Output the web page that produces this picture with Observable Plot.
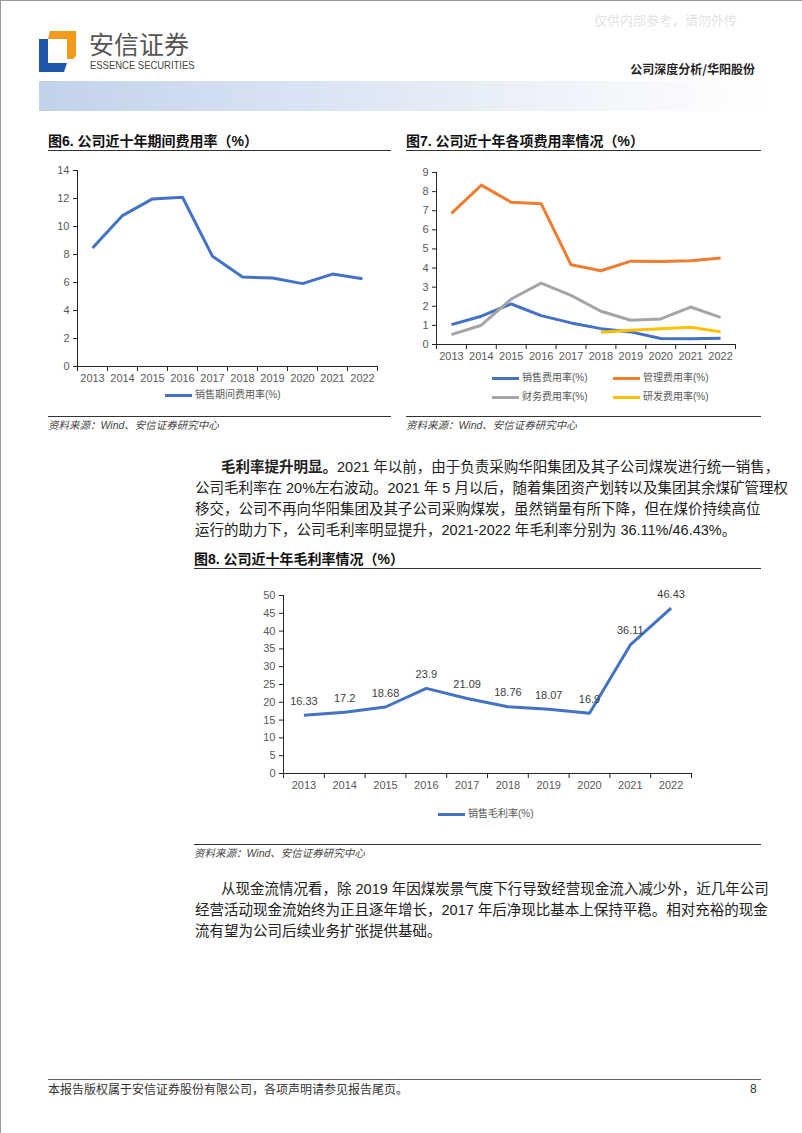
<!DOCTYPE html>
<html><head><meta charset="utf-8">
<script src="https://cdn.jsdelivr.net/npm/d3@7"></script>
<script src="https://cdn.jsdelivr.net/npm/@observablehq/plot@0.6"></script>
<style>
body{margin:0;background:#fff;}
#page{position:relative;width:802px;height:1133px;overflow:hidden;background:#fff;font-family:"Liberation Sans","Noto Sans CJK SC",sans-serif;color:#222;box-sizing:border-box;border-top:1px solid #999;border-left:1px solid #999;}
.a{position:absolute;white-space:nowrap;}
.title{font-size:14px;font-weight:bold;color:#111;line-height:18px;}
.rule{position:absolute;height:0;border-top:1.3px solid #333;}
.src{font-size:10.5px;font-style:italic;color:#444;line-height:14px;}
.para{position:absolute;font-size:14.5px;line-height:20px;color:#222;text-align:justify;text-align-last:justify;white-space:nowrap;}
.para.last{text-align-last:left;}
.leg{position:absolute;font-size:10px;color:#595959;line-height:12px;white-space:nowrap;display:flex;align-items:center;}
.leg i{display:inline-block;width:27px;height:3px;margin-right:3px;}
.chart{position:absolute;}
</style></head><body><div id="page">
<div class="a" style="left:593px;top:9px;font-size:13px;color:#e4e4e4;font-family:'Noto Sans CJK SC';">仅供内部参考，请勿外传</div>
<svg class="a" style="left:0;top:0" width="90" height="80">
  <polygon points="49,30 75,30 75,55 72,58 66,58 66,38 47,38" fill="#f39a1e"/>
  <polygon points="38,38 47,38 47,62 66,62 63,71 38,71" fill="#1e56a8"/>
</svg>
<div class="a" style="left:88px;top:26px;font-size:25px;line-height:32px;color:#555;font-family:'Noto Sans CJK SC';">安信证券</div>
<div class="a" style="left:89px;top:58px;font-size:11px;line-height:13px;color:#444;font-family:'Liberation Sans Narrow','Liberation Sans';transform:scaleX(0.86);transform-origin:left;">ESSENCE SECURITIES</div>
<div class="a" style="right:47px;top:60px;font-size:12px;font-weight:bold;color:#222;line-height:16px;font-family:'Noto Sans CJK SC';">公司深度分析/华阳股份</div>
<div class="a" style="left:38px;top:80px;width:722px;height:30px;background:linear-gradient(to right,#c2d2eb 0%,#dbe5f4 40%,#eef2f9 70%,#ffffff 100%);"></div>

<div class="a title" style="left:47px;top:131px;">图6. 公司近十年期间费用率（%）</div>
<div class="rule" style="left:47px;top:149px;width:343px;"></div>
<div class="a title" style="left:405px;top:131px;">图7. 公司近十年各项费用率情况（%）</div>
<div class="rule" style="left:405px;top:149px;width:355px;"></div>
<div id="c6" class="chart" style="left:40px;top:160px;"></div>
<div id="c7" class="chart" style="left:400px;top:160px;"></div>
<div class="leg" style="left:164px;top:388px;"><i style="background:#4472c4"></i>销售期间费用率(%)</div>
<div class="leg" style="left:491px;top:371px;"><i style="background:#4472c4"></i>销售费用率(%)</div>
<div class="leg" style="left:612px;top:371px;"><i style="background:#ed7d31"></i>管理费用率(%)</div>
<div class="leg" style="left:491px;top:390px;"><i style="background:#a5a5a5"></i>财务费用率(%)</div>
<div class="leg" style="left:612px;top:390px;"><i style="background:#ffc000"></i>研发费用率(%)</div>
<div class="rule" style="left:47px;top:415px;width:343px;"></div>
<div class="rule" style="left:405px;top:415px;width:355px;"></div>
<div class="a src" style="left:47px;top:417px;">资料来源：Wind、安信证券研究中心</div>
<div class="a src" style="left:405px;top:417px;">资料来源：Wind、安信证券研究中心</div>

<div class="para" style="left:220px;top:456px;width:537px;"><b>毛利率提升明显。</b>2021 年以前，由于负责采购华阳集团及其子公司煤炭进行统一销售，</div>
<div class="para" style="left:194px;top:477px;width:563px;">公司毛利率在 20%左右波动。2021 年 5 月以后，随着集团资产划转以及集团其余煤矿管理权</div>
<div class="para" style="left:194px;top:498px;width:563px;">移交，公司不再向华阳集团及其子公司采购煤炭，虽然销量有所下降，但在煤价持续高位</div>
<div class="para last" style="left:194px;top:519px;">运行的助力下，公司毛利率明显提升，2021-2022 年毛利率分别为 36.11%/46.43%。</div>

<div class="a title" style="left:193px;top:549px;">图8. 公司近十年毛利率情况（%）</div>
<div class="rule" style="left:193px;top:567px;width:567px;"></div>
<div id="c8" class="chart" style="left:240px;top:580px;"></div>
<div class="leg" style="left:437px;top:807px;"><i style="background:#4472c4"></i>销售毛利率(%)</div>
<div class="rule" style="left:193px;top:843px;width:567px;"></div>
<div class="a src" style="left:193px;top:845px;">资料来源：Wind、安信证券研究中心</div>

<div class="para" style="left:220px;top:878px;width:537px;">从现金流情况看，除 2019 年因煤炭景气度下行导致经营现金流入减少外，近几年公司</div>
<div class="para" style="left:194px;top:899px;width:563px;">经营活动现金流始终为正且逐年增长，2017 年后净现比基本上保持平稳。相对充裕的现金</div>
<div class="para last" style="left:194px;top:920px;">流有望为公司后续业务扩张提供基础。</div>

<div class="rule" style="left:47px;top:1078px;width:713px;border-top:1px solid #666;"></div>
<div class="a" style="left:47px;top:1080px;font-size:12px;line-height:16px;color:#333;font-family:'Noto Sans CJK SC';">本报告版权属于安信证券股份有限公司，各项声明请参见报告尾页。</div>
<div class="a" style="left:749px;top:1080px;font-size:12px;line-height:16px;color:#333;">8</div>
</div>
<script>
// ---- data ----
const years = [2013, 2014, 2015, 2016, 2017, 2018, 2019, 2020, 2021, 2022];
const periodExpenseRate = [8.47, 10.78, 11.97, 12.09, 7.87, 6.39, 6.32, 5.92, 6.6, 6.27];
const salesExpenseRate = [1.04, 1.48, 2.12, 1.51, 1.13, 0.83, 0.66, 0.31, 0.30, 0.33];
const mgmtExpenseRate = [6.86, 8.34, 7.44, 7.37, 4.17, 3.86, 4.36, 4.34, 4.38, 4.52];
const finExpenseRate = [0.52, 1.01, 2.38, 3.21, 2.57, 1.74, 1.27, 1.34, 1.96, 1.42];
const rdExpenseRate = [null, null, null, null, null, 0.64, 0.75, 0.83, 0.90, 0.66];
const grossMargin = [16.33, 17.2, 18.68, 23.9, 21.09, 18.76, 18.07, 16.9, 36.11, 46.43];
const grossMarginLabels = ["16.33", "17.2", "18.68", "23.9", "21.09", "18.76", "18.07", "16.9", "36.11", "46.43"];
const ticks6 = [0, 2, 4, 6, 8, 10, 12, 14];
const ticks7 = [0, 1, 2, 3, 4, 5, 6, 7, 8, 9];
const ticks8 = [0, 5, 10, 15, 20, 25, 30, 35, 40, 45, 50];
const BLUE = "#4472c4", ORANGE = "#ed7d31", GRAY = "#a5a5a5", YELLOW = "#ffc000";

function table(vals) {
  return years.map((y, i) => ({year: y, value: vals[i], i})).filter(d => d.value != null);
}

function lineChart(el, {width, height, mt, mr, mb, ml, yTicks, series, labels}) {
  const yMax = yTicks[yTicks.length - 1];
  const x0 = years[0] - 0.5, x1 = years[years.length - 1] + 0.5;
  const pw = width - ml - mr, ph = height - mt - mb;
  const ux = (x1 - x0) / pw, uy = yMax / ph;
  const bounds = d3.range(years.length + 1).map(i => x0 + i);
  const AX = "#262626", TX = "#595959";
  const marks = [
    Plot.ruleX([x0], {y1: () => 0, y2: () => yMax, stroke: AX, strokeWidth: 1}),
    Plot.ruleY(yTicks, {x1: () => x0 - 4 * ux, x2: () => x0, y: d => d, stroke: AX, strokeWidth: 1}),
    Plot.ruleX(bounds, {x: d => d, y1: () => 0, y2: () => -5 * uy, stroke: AX, strokeWidth: 1}),
    Plot.ruleY([0], {x1: () => x0, x2: () => x1, stroke: AX, strokeWidth: 1}),
    Plot.text(yTicks, {x: () => x0, y: d => d, text: d => String(d), dx: -8, textAnchor: "end", fill: TX, fontSize: 11}),
    Plot.text(years, {x: d => d, y: () => 0, text: d => String(d), dy: 12, fill: TX, fontSize: 11})
  ];
  for (const s of series) {
    marks.push(Plot.line(table(s.values), {x: "year", y: "value", stroke: s.color, strokeWidth: 3, strokeLinejoin: "round", strokeLinecap: "butt"}));
  }
  if (labels) {
    marks.push(Plot.text(table(labels.values), {x: "year", y: "value", text: d => labels.text[d.i], dy: -14, fill: "#404040", fontSize: 11}));
  }
  const svg = Plot.plot({
    width, height, marginTop: mt, marginRight: mr, marginBottom: mb, marginLeft: ml,
    x: {type: "linear", domain: [x0, x1], axis: null},
    y: {type: "linear", domain: [0, yMax], axis: null},
    style: {fontFamily: "'Liberation Sans', Arial, sans-serif", background: "transparent", overflow: "visible"},
    marks
  });
  document.getElementById(el).appendChild(svg);
}

lineChart("c6", {width: 350, height: 230, mt: 9, mr: 14, mb: 25, ml: 36, yTicks: ticks6,
  series: [{values: periodExpenseRate, color: BLUE}]});
lineChart("c7", {width: 350, height: 205, mt: 11, mr: 16, mb: 22, ml: 35, yTicks: ticks7,
  series: [
    {values: salesExpenseRate, color: BLUE},
    {values: mgmtExpenseRate, color: ORANGE},
    {values: finExpenseRate, color: GRAY},
    {values: rdExpenseRate, color: YELLOW}
  ]});
lineChart("c8", {width: 470, height: 217, mt: 14, mr: 20, mb: 25, ml: 42, yTicks: ticks8,
  series: [{values: grossMargin, color: BLUE}],
  labels: {values: grossMargin, text: grossMarginLabels}});
</script>
</body></html>
